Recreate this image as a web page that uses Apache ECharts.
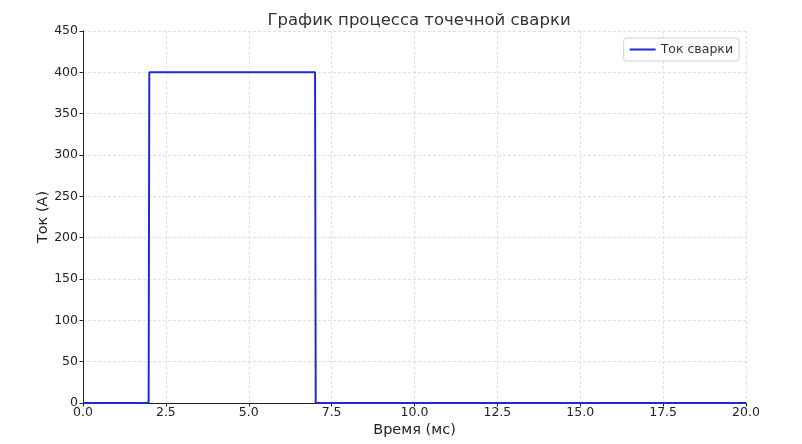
<!DOCTYPE html>
<html><head><meta charset="utf-8">
<script src="https://cdn.jsdelivr.net/npm/echarts@6/dist/echarts.min.js"></script>
<style>html,body{margin:0;padding:0;background:#fff}#c{width:802px;height:444px}</style>
</head><body><div id="c"></div>
<script>
const timeMs = [0, 1.98, 2.0, 7.0, 7.02, 20];
const currentA = [0, 0, 400, 400, 0, 0];
const seriesName = 'Ток сварки';
const titleText = 'График процесса точечной сварки';
const xLabel = 'Время (мс)';
const yLabel = 'Ток (А)';

const chart = echarts.init(document.getElementById('c'));
const font = 'DejaVu Sans';
chart.setOption({
  animation: false,
  textStyle: {fontFamily: font},
  title: {text: titleText, left: 414, top: 7, textAlign: 'center',
    textStyle: {fontFamily: font, fontSize: 16.5, fontWeight: 'normal', color: '#333'}},
  legend: {data: [seriesName], right: 63, top: 38, orient: 'vertical',
    padding: [5, 6, 5, 6], itemWidth: 26, itemHeight: 2, itemGap: 6,
    borderColor: '#d0d0d0', borderWidth: 1, borderRadius: 3, backgroundColor: '#fff',
    icon: 'rect',
    textStyle: {fontFamily: font, fontSize: 12.5, color: '#333'}},
  grid: {left: 83, right: 56, top: 31, bottom: 41},
  xAxis: {type: 'value', min: 0, max: 20, interval: 2.5,
    name: xLabel, nameLocation: 'middle', nameGap: 20, nameMoveOverlap: false,
    nameTextStyle: {fontFamily: font, fontSize: 14.5, color: '#222'},
    axisLine: {show: true, onZero: false, lineStyle: {color: '#222', width: 1}},
    axisTick: {show: true, length: 3.5, lineStyle: {color: '#222'}},
    axisLabel: {fontFamily: font, fontSize: 12.5, color: '#222', margin: 3,
      formatter: v => v.toFixed(1)},
    splitLine: {show: true, lineStyle: {color: '#d8d8d8', type: [3, 2], width: 0.8}}},
  yAxis: {type: 'value', min: 0, max: 450, interval: 50,
    name: yLabel, nameLocation: 'middle', nameGap: 32, nameRotate: 90, nameMoveOverlap: false,
    nameTextStyle: {fontFamily: font, fontSize: 14.5, color: '#222'},
    axisLine: {show: true, lineStyle: {color: '#222', width: 1}},
    axisTick: {show: true, length: 3.5, lineStyle: {color: '#222'}},
    axisLabel: {fontFamily: font, fontSize: 12.5, color: '#222', margin: 5},
    splitLine: {show: true, lineStyle: {color: '#d8d8d8', type: [3, 2], width: 0.8}}},
  series: [{
    name: seriesName, type: 'line', showSymbol: false, symbol: 'none',
    data: timeMs.map((t, i) => [t, currentA[i]]),
    lineStyle: {color: '#1c2bd4', width: 2},
    itemStyle: {color: '#1c2bd4'}
  }]
});
</script></body></html>
